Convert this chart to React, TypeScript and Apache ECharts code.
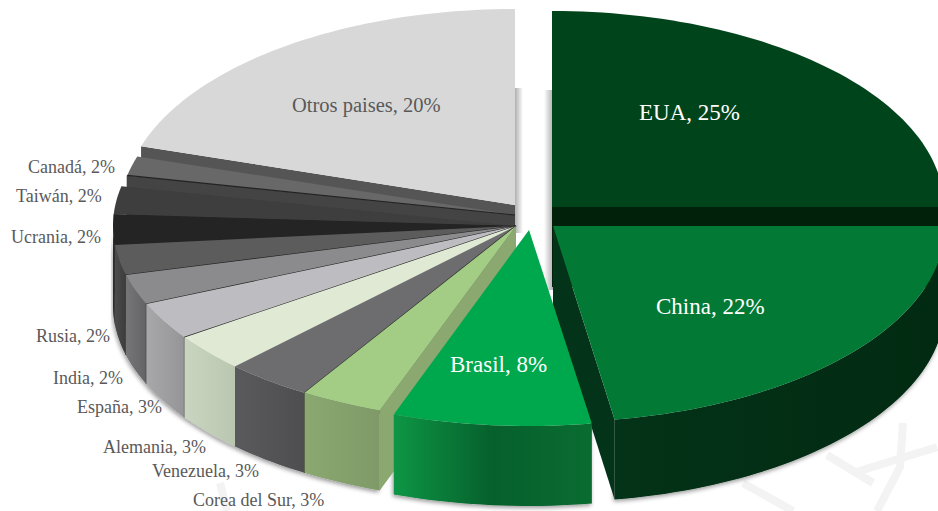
import React, { useEffect, useRef } from "react";
import * as echarts from "echarts";

// Share of each country, clockwise from twelve o'clock.
const countries = ["EUA", "China", "Brasil", "Corea del Sur", "Venezuela", "Alemania", "España", "India", "Rusia", "Ucrania", "Taiwán", "Canadá", "Otros paises"];
const shares = [25, 22.49, 8, 3.3, 3.49, 3.1, 3.1, 2.49, 2.49, 2.49, 2.3, 1.6, 20.15];

const topColors = ["#00441b", "#027a35", "#00a84d", "#a3cd85", "#6d6d6f", "#dfe9d3", "#bdbdc1", "#8b8b8d", "#5c5c5c", "#242424", "#3e3e3e", "#686868", "#d8d8d8"];
const wallColors: string[][] = [
  ["#02210b", "#02210b"],
  ["#033318", "#022a12"],
  ["#0d9645", "#06602c", "#0a6c31"],
  ["#8aa870", "#7f9a68"],
  ["#5a5a5c", "#4e4e50"],
  ["#c9d5c0", "#bac7b0"],
  ["#a8a8ab", "#959598"],
  ["#767678", "#636365"],
  ["#4c4c4c", "#3c3c3c"],
  ["#2c2c2c", "#2c2c2c"],
  ["#2c2c2c", "#2c2c2c"],
  ["#444444", "#444444"],
  ["#555555", "#555555"],
];

// Back-to-front painting sequence, as indices into the lists above.
const paintOrder = [12, 0, 11, 10, 9, 8, 7, 6, 5, 4, 3, 1, 2];

// Ellipse of each exploded slice: [centre x, centre y, radius x, radius y].
const otrosEllipse = [515, 205, 392, 196];
const fanEllipse = [516, 226, 403, 196];
const canadaEllipse = [515, 215, 396, 195];
const ellipses = [[552, 207, 392, 196], [553, 226, 392, 196], [529, 230, 400, 196], ...Array(8).fill(fanEllipse), canadaEllipse, otrosEllipse];
const DEPTH = 80;

const labelPlaces = [[639, 112], [656, 306], [450, 364], [193, 500], [152, 471], [103, 447], [77, 407], [53, 378], [36, 336], [11, 237], [16, 196], [28, 167], [292, 105]];
const labelSizes = [23, 23, 23, 18, 18, 18, 18, 18, 18, 18, 18, 18, 20.5];
const labelColors = ["#fff", "#fff", "#fff", ...Array(10).fill("#595959")];
// Slices whose clockwise-start boundary shows a dark seam.
const seams = [4, 6, 7, 8, 11];

const total = shares.reduce((a, b) => a + b, 0);
const startAngles = shares.map((_, i) => (shares.slice(0, i).reduce((a, b) => a + b, 0) / total) * Math.PI * 2);
const endAngles = shares.map((_, i) => (shares.slice(0, i + 1).reduce((a, b) => a + b, 0) / total) * Math.PI * 2);

function rimPoint(i: number, angle: number, drop = 0) {
  const [cx, cy, rx, ry] = ellipses[i];
  return [cx + rx * Math.sin(angle), cy - ry * Math.cos(angle) + drop];
}

function arcPoints(i: number, from: number, to: number, drop = 0) {
  const n = Math.max(2, Math.ceil(((to - from) / Math.PI) * 120));
  const out: number[][] = [];
  for (let k = 0; k <= n; k++) out.push(rimPoint(i, from + ((to - from) * k) / n, drop));
  return out;
}

function gradient(stops: string[]) {
  return new echarts.graphic.LinearGradient(0, 0, 1, 0, stops.map((color, k) => ({ offset: k / Math.max(1, stops.length - 1), color })));
}

function frontWall(i: number) {
  const from = Math.max(startAngles[i], Math.PI / 2);
  const to = Math.min(endAngles[i], (Math.PI * 3) / 2);
  if (to <= from) return null;
  return [...arcPoints(i, from, to), ...arcPoints(i, from, to, DEPTH).reverse()];
}

function renderShadow(params: any, api: any) {
  const i = api.value(0);
  const pts = frontWall(i);
  if (!pts) return { type: "group", children: [] };
  return {
    type: "polygon",
    shape: { points: pts },
    style: { fill: "#bbbbbb", shadowBlur: 4, shadowColor: "rgba(0,0,0,0.4)", shadowOffsetX: -1, shadowOffsetY: 2 },
  };
}

function renderSlice(params: any, api: any) {
  const i = api.value(0);
  const a1 = startAngles[i];
  const a2 = endAngles[i];
  const [cx, cy] = ellipses[i];
  const wall = wallColors[i];
  const children: any[] = [];

  // A radial face is visible only while it turns towards the viewer.
  if (a1 > Math.PI) {
    const c = rimPoint(i, a1);
    children.push({ type: "polygon", shape: { points: [[cx, cy], c, [c[0], c[1] + DEPTH], [cx, cy + DEPTH]] }, style: { fill: wall[0] } });
  }
  if (a2 < Math.PI) {
    const c = rimPoint(i, a2);
    children.push({ type: "polygon", shape: { points: [[cx, cy], c, [c[0], c[1] + DEPTH], [cx, cy + DEPTH]] }, style: { fill: wall[0] } });
  }
  const front = frontWall(i);
  if (front) children.push({ type: "polygon", shape: { points: front }, style: { fill: gradient(wall) } });

  children.push({ type: "polygon", shape: { points: [[cx, cy], ...arcPoints(i, a1, a2)] }, style: { fill: topColors[i] } });

  if (seams.includes(i)) {
    const c = rimPoint(i, a1);
    children.push({ type: "line", shape: { x1: cx, y1: cy, x2: c[0], y2: c[1] }, style: { stroke: "#232323", lineWidth: 1.2 } });
    children.push({ type: "line", shape: { x1: c[0], y1: c[1], x2: c[0], y2: c[1] + DEPTH }, style: { stroke: "#333333", lineWidth: 1 } });
  }
  return { type: "group", children };
}

function renderLabel(params: any, api: any) {
  const i = api.value(0);
  const [x, y] = labelPlaces[i];
  return {
    type: "text",
    style: {
      x,
      y,
      text: `${countries[i]}, ${Math.round(shares[i])}%`,
      fill: labelColors[i],
      font: `${labelSizes[i]}px "Liberation Serif"`,
      textAlign: "left",
      textVerticalAlign: "middle",
    },
  };
}

// Pale letter strokes showing through the white background.
const watermarkStrokes = [
  [[903, 423], [900, 467], [877, 511]],
  [[827, 455], [873, 483]],
  [[853, 473], [937, 447]],
  [[743, 483], [793, 511]],
  [[220, 483], [227, 511]],
];

export default function App() {
  const ref = useRef<HTMLDivElement>(null);
  useEffect(() => {
    document.body.style.margin = "0";
    const chart = echarts.init(ref.current!, undefined, { renderer: "svg" });
    const rows = paintOrder.map((i) => [i]);
    chart.setOption({
      animation: false,
      backgroundColor: "#ffffff",
      graphic: {
        elements: [
          ...watermarkStrokes.map((points) => ({
            type: "polyline",
            shape: { points },
            style: { stroke: "#f3f3f3", lineWidth: 8, fill: "none" },
          })),
          {
            type: "rect",
            shape: { x: 515, y: 88, width: 8, height: 145 },
            style: { fill: gradient(["#b0b0b0", "#ffffff"]) },
          },
          {
            type: "rect",
            shape: { x: 544, y: 90, width: 9, height: 200 },
            style: { fill: gradient(["#ffffff", "#b0b0b0"]) },
          },
        ],
      },
      series: [
        { type: "custom", coordinateSystem: "none", renderItem: renderShadow, data: rows, silent: true, z: 1 },
        { type: "custom", coordinateSystem: "none", renderItem: renderSlice, data: rows, silent: true, z: 2 },
        { type: "custom", coordinateSystem: "none", renderItem: renderLabel, data: rows, silent: true, z: 3 },
      ],
    });
    return () => chart.dispose();
  }, []);
  return <div ref={ref} style={{ width: 938, height: 511, overflow: "hidden" }} />;
}
